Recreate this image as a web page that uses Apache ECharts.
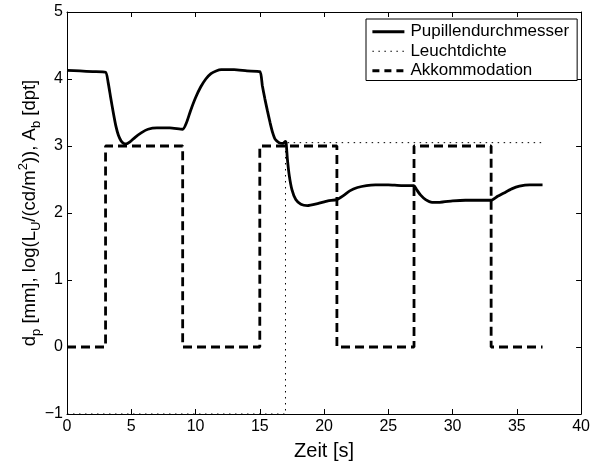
<!DOCTYPE html>
<html>
<head>
<meta charset="utf-8">
<script src="https://cdn.jsdelivr.net/npm/echarts@6/dist/echarts.min.js"></script>
<style>html,body{margin:0;padding:0;background:#fff}#c{width:593px;height:470px}</style>
</head>
<body>
<div id="c"></div>
<script>
var xTicks = [0, 5, 10, 15, 20, 25, 30, 35, 40];
var yTicks = [-1, 0, 1, 2, 3, 4, 5];
var seriesNames = ['Pupillendurchmesser', 'Leuchtdichte', 'Akkommodation'];

var pupilT = [0,1,2,3,3.2,3.4,3.6,3.8,4.0,4.2,4.4,4.6,4.9,5.3,5.8,6.3,7,8,9,9.3,9.6,10,10.4,10.8,11.2,11.6,12,13,14,15,15.2,15.4,15.6,15.8,16,16.2,16.5,16.8,17,17.05,17.15,17.3,17.5,17.8,18.2,18.7,19.5,20.3,21,21.5,22,22.6,23.3,24,25,26,27,27.2,27.5,27.9,28.4,29,30,31,32,33,33.5,34,34.6,35.2,36,37];
var pupilV = [4.13,4.12,4.11,4.10,3.95,3.72,3.5,3.3,3.16,3.08,3.04,3.03,3.06,3.13,3.2,3.25,3.27,3.27,3.25,3.35,3.52,3.72,3.88,4.0,4.08,4.12,4.14,4.14,4.12,4.11,3.9,3.7,3.52,3.35,3.2,3.1,3.05,3.04,3.07,3.05,2.8,2.55,2.35,2.2,2.13,2.11,2.14,2.18,2.2,2.26,2.33,2.38,2.41,2.42,2.42,2.41,2.41,2.35,2.27,2.2,2.16,2.16,2.18,2.19,2.19,2.19,2.25,2.3,2.36,2.4,2.42,2.42];

var lumT = [0, 17, 17, 37];
var lumV = [-1, -1, 3.05, 3.05];

var accT = [0,3,3,9,9,15,15,21,21,27,27,33,33,37];
var accV = [0,0,3,3,0,0,3,3,0,0,3,3,0,0];

function pairs(t, v) { return t.map(function (x, i) { return [x, v[i]]; }); }

var FONT = 'Liberation Sans, Arial, Helvetica, sans-serif';
var chart = echarts.init(document.getElementById('c'), null, {renderer: 'canvas'});

var baseAxisLine = {show: true, onZero: false, lineStyle: {color: '#000', width: 1}};
var tickIn = {show: true, inside: true, length: 5, lineStyle: {color: '#000', width: 1}};

var solidStyle = {color: '#000', width: 2.8, type: 'solid'};
var dotStyle = {color: '#000', width: 1, type: [1.5, 4.5]};
var dashStyle = {color: '#000', width: 2.8, type: [9, 5]};

chart.setOption({
  animation: false,
  backgroundColor: '#fff',
  textStyle: {fontFamily: FONT},
  grid: {left: 67, right: 9, top: 12, bottom: 56, show: false},
  legend: {
    orient: 'vertical',
    left: 366, top: 19,
    backgroundColor: '#fff',
    borderColor: '#000', borderWidth: 1, borderRadius: 0,
    padding: [3, 8, 0, 5],
    itemGap: 0,
    itemWidth: 32, itemHeight: 14,
    itemStyle: {opacity: 0},
    textStyle: {fontFamily: FONT, fontSize: 17, lineHeight: 19.5, color: '#000', padding: [0, 0, 0, 1]},
    data: [
      {name: seriesNames[0], lineStyle: solidStyle},
      {name: seriesNames[1], lineStyle: dotStyle},
      {name: seriesNames[2], lineStyle: {color: '#000', width: 2.8, type: [7, 5]}}
    ]
  },
  xAxis: [{
    type: 'value', min: 0, max: 40, interval: 5,
    position: 'bottom',
    axisLine: baseAxisLine, axisTick: tickIn,
    splitLine: {show: false},
    axisLabel: {color: '#000', fontSize: 16, fontFamily: FONT, margin: 5,
      formatter: function (v) { return xTicks.indexOf(v) >= 0 ? String(v) : ''; }},
    name: 'Zeit [s]', nameLocation: 'middle', nameGap: 27, nameMoveOverlap: false,
    nameTextStyle: {color: '#000', fontSize: 20, fontFamily: FONT}
  }, {
    type: 'value', min: 0, max: 40, interval: 5,
    position: 'top',
    axisLine: baseAxisLine, axisTick: tickIn,
    splitLine: {show: false}, axisLabel: {show: false}
  }],
  yAxis: [{
    type: 'value', min: -1, max: 5, interval: 1,
    position: 'left',
    axisLine: baseAxisLine, axisTick: tickIn,
    splitLine: {show: false},
    axisLabel: {color: '#000', fontSize: 16, fontFamily: FONT, margin: 4,
      formatter: function (v) { return yTicks.indexOf(v) >= 0 ? (v < 0 ? '\u2212' + Math.abs(v) : String(v)) : ''; }},
    name: '{m|d}{sub|p}{m| [mm], log(L}{sub|U}{m|/(cd/m}{sup|2}{m|)), A}{sub|b}{m| [dpt]}',
    nameLocation: 'middle', nameGap: 24, nameMoveOverlap: false,
    nameTextStyle: {
      color: '#000', fontSize: 18.5, fontFamily: FONT,
      rich: {
        m: {fontSize: 18.5, fontFamily: FONT, color: '#000', lineHeight: 26, verticalAlign: 'middle'},
        sub: {fontSize: 13, fontFamily: FONT, color: '#000', lineHeight: 13, verticalAlign: 'bottom'},
        sup: {fontSize: 13, fontFamily: FONT, color: '#000', lineHeight: 13, verticalAlign: 'top'}
      }
    }
  }, {
    type: 'value', min: -1, max: 5, interval: 1,
    position: 'right',
    axisLine: baseAxisLine, axisTick: tickIn,
    splitLine: {show: false}, axisLabel: {show: false}
  }],
  series: [{
    name: seriesNames[0], type: 'line', showSymbol: false, symbol: 'none',
    data: pairs(pupilT, pupilV), smooth: 0.2, z: 5,
    lineStyle: solidStyle,
    itemStyle: {color: '#000'}
  }, {
    name: seriesNames[1], type: 'line', showSymbol: false, symbol: 'none',
    data: pairs(lumT, lumV), z: 3,
    lineStyle: dotStyle,
    itemStyle: {color: '#000'}
  }, {
    name: seriesNames[2], type: 'line', showSymbol: false, symbol: 'none',
    data: pairs(accT, accV), z: 4,
    lineStyle: dashStyle,
    itemStyle: {color: '#000'}
  }]
});
</script>
</body>
</html>
